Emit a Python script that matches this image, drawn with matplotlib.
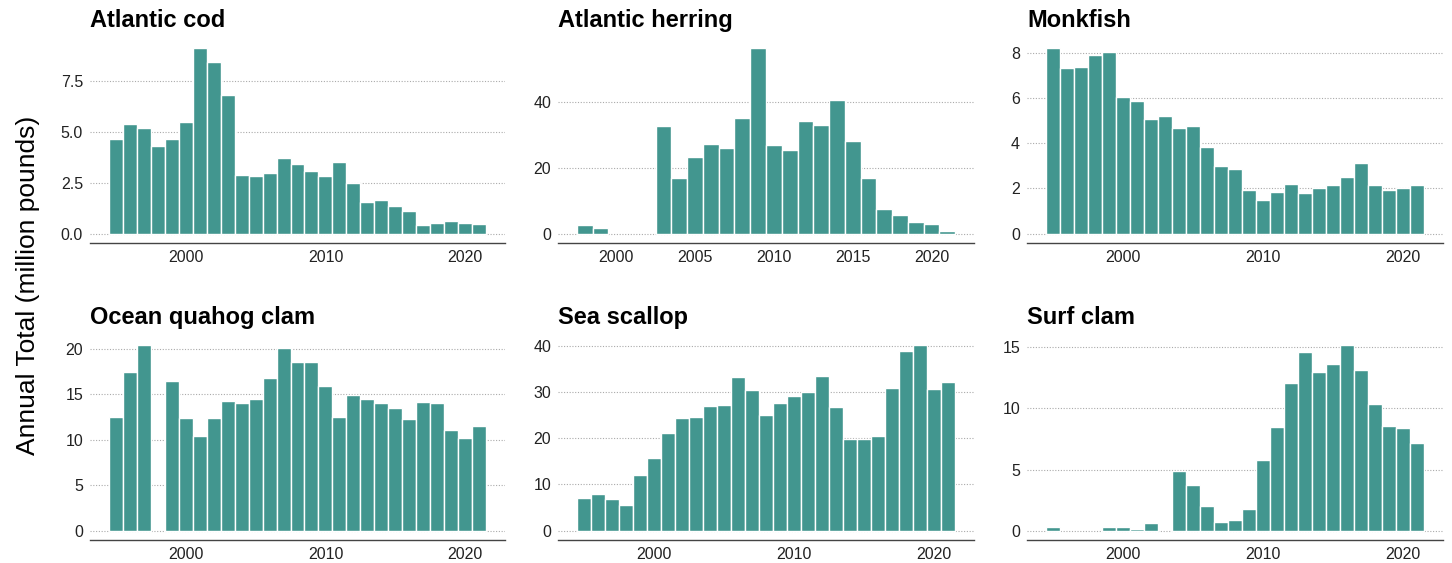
import numpy as np
import matplotlib.pyplot as plt

# Annual landings by species, million pounds
years = list(range(1995, 2022))

cod = [4.65, 5.4, 5.2, 4.3, 4.65, 5.46, 9.1, 8.42, 6.8, 2.89, 2.81, 2.97, 3.74,
       3.44, 3.07, 2.82, 3.52, 2.48, 1.57, 1.67, 1.38, 1.13, 0.42, 0.52, 0.64,
       0.51, 0.46]

herring_years = list(range(1998, 2022))
herring = [2.6, 1.6, np.nan, np.nan, np.nan, 32.8, 17.0, 23.5, 27.2, 26.0, 35.3,
           56.5, 27.1, 25.4, 34.4, 33.1, 40.7, 28.4, 17.0, 7.6, 5.7, 3.5, 3.1, 0.9]

monkfish = [8.19, 7.34, 7.37, 7.88, 8.03, 6.06, 5.87, 5.06, 5.19, 4.68, 4.75,
            3.84, 2.99, 2.87, 1.94, 1.51, 1.84, 2.18, 1.79, 2.01, 2.16, 2.51,
            3.12, 2.13, 1.93, 2.04, 2.15]

quahog = [12.5, 17.5, 20.4, np.nan, 16.5, 12.4, 10.4, 12.4, 14.3, 14.1, 14.5,
          16.8, 20.1, 18.6, 18.6, 15.9, 12.5, 14.9, 14.5, 14.0, 13.55, 12.3,
          14.2, 14.0, 11.06, 10.2, 11.5]

scallop = [7.05, 7.9, 6.8, 5.5, 12.0, 15.8, 21.2, 24.3, 24.5, 27.0, 27.2, 33.2,
           30.4, 25.0, 27.7, 29.1, 30.0, 33.4, 26.8, 19.9, 19.9, 20.4, 30.9,
           38.8, 40.1, 30.6, 32.2]

surfclam = [0.27, np.nan, np.nan, np.nan, 0.3, 0.27, 0.14, 0.6, np.nan, 4.9,
            3.77, 2.0, 0.73, 0.84, 1.79, 5.77, 8.5, 12.1, 14.6, 13.0, 13.6,
            15.15, 13.1, 10.35, 8.54, 8.37, 7.13]

panels = [
    ("Atlantic cod", years, cod, [0.0, 2.5, 5.0, 7.5], "{:.1f}", [2000, 2010, 2020]),
    ("Atlantic herring", herring_years, herring, [0, 20, 40], "{:.0f}",
     [2000, 2005, 2010, 2015, 2020]),
    ("Monkfish", years, monkfish, [0, 2, 4, 6, 8], "{:.0f}", [2000, 2010, 2020]),
    ("Ocean quahog clam", years, quahog, [0, 5, 10, 15, 20], "{:.0f}", [2000, 2010, 2020]),
    ("Sea scallop", years, scallop, [0, 10, 20, 30, 40], "{:.0f}", [2000, 2010, 2020]),
    ("Surf clam", years, surfclam, [0, 5, 10, 15], "{:.0f}", [2000, 2010, 2020]),
]

W, H = 1452, 563
fig = plt.figure(figsize=(W / 100, H / 100), dpi=100)
plt.rcParams['font.family'] = ['Liberation Sans', 'DejaVu Sans']

bar_color = '#42968f'
cols = [(90, 505), (558, 974), (1027, 1443)]
rows = [(39, 243), (336, 540)]

for i, (title, yrs, vals, yticks, fmt, xticks) in enumerate(panels):
    x0, x1 = cols[i % 3]
    y0, y1 = rows[i // 3]
    ax = fig.add_axes([x0 / W, 1 - y1 / H, (x1 - x0) / W, (y1 - y0) / H])

    yrs = np.array(yrs)
    vals = np.array(vals, dtype=float)
    ok = ~np.isnan(vals)
    ax.bar(yrs[ok], vals[ok], width=1.0, color=bar_color, edgecolor='white',
           linewidth=1.0, zorder=3)

    # ggplot-style 5% expansion
    lo, hi = yrs.min() - 0.5, yrs.max() + 0.5
    pad = (hi - lo) * 0.05
    ax.set_xlim(lo - pad, hi + pad)
    vmax = np.nanmax(vals)
    ax.set_ylim(-vmax * 0.05, vmax * 1.05)

    ax.set_yticks(yticks)
    ax.set_yticklabels([fmt.format(t) for t in yticks])
    ax.set_xticks(xticks)
    ax.yaxis.grid(True, linestyle=(0, (1, 1.5)), color='#aaaaaa', linewidth=0.8, zorder=0)
    ax.tick_params(length=0, labelsize=11.5, colors='#222222')
    ax.tick_params(axis='y', pad=5)
    ax.tick_params(axis='x', pad=5)
    for s in ['top', 'right', 'left']:
        ax.spines[s].set_visible(False)
    ax.spines['bottom'].set_color('#444444')
    ax.spines['bottom'].set_linewidth(1.0)

    fig.text(x0 / W, 1 - (y0 - 12) / H, title, fontsize=17, fontweight='bold',
             ha='left', va='baseline', color='black')

fig.text(28 / W, 1 - 285 / H, "Annual Total (million pounds)", rotation=90, fontsize=19,
         ha='center', va='center', color='black')

fig.savefig('out.png', dpi=100)
